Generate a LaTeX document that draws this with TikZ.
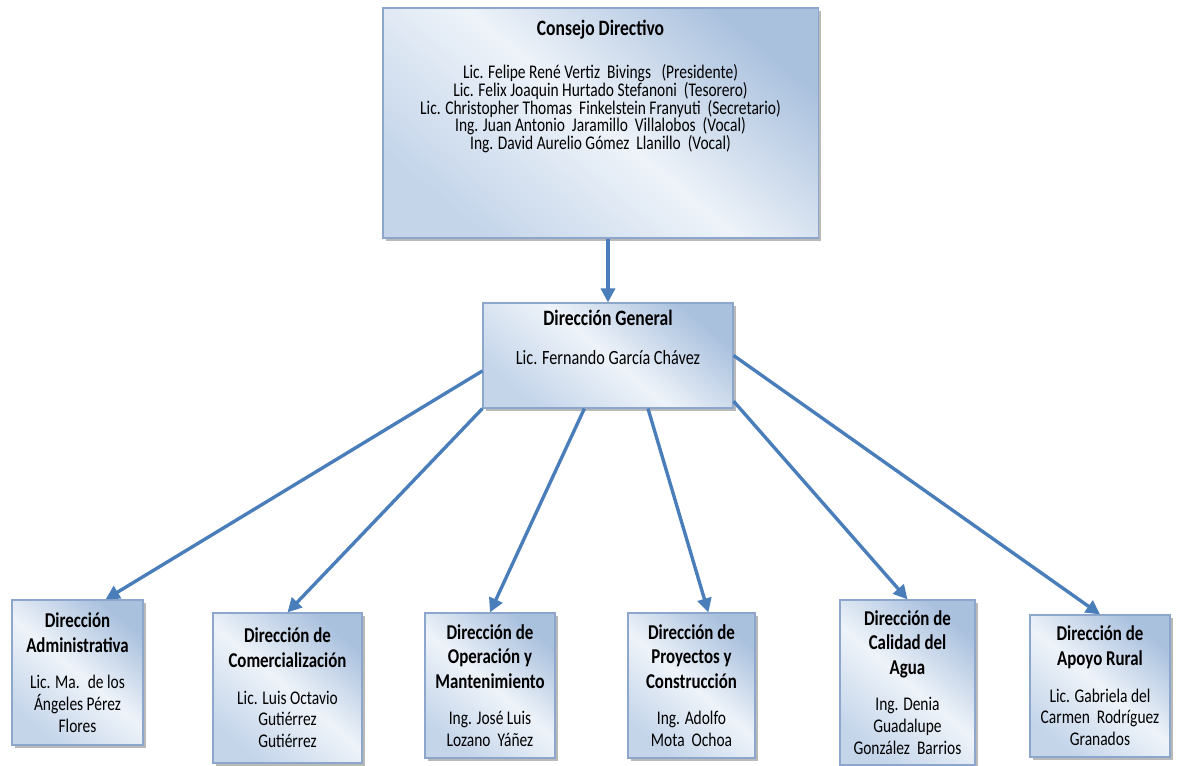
\documentclass[tikz,border=0pt]{standalone}
\usepackage{fontspec}
\setmainfont{Carlito}[FakeStretch=0.8]
\usetikzlibrary{positioning,shadows,arrows.meta}

\definecolor{azulflecha}{RGB}{74,126,187}
\definecolor{bordecaja}{RGB}{141,167,204}
\definecolor{cajaarriba}{RGB}{170,193,222}
\definecolor{cajamedio}{RGB}{238,243,249}
\definecolor{cajaabajo}{RGB}{196,213,234}

\lineskiplimit=-20pt
\newcommand{\tit}{\bfseries\fontsize{15}{15}\selectfont}

\tikzset{
  caja/.style={rectangle, draw=bordecaja, line width=0.8pt, inner sep=0pt,
    top color=cajaarriba, bottom color=cajaabajo, middle color=cajamedio, shading angle=-40,
    drop shadow={shadow xshift=2pt, shadow yshift=-2pt, opacity=.5, fill=black!55},
    align=center, font=\fontsize{13.75}{15.5}\selectfont},
  texto/.style={inner sep=0pt, align=center},
  flecha/.style={draw=azulflecha, line width=2.4pt, -{Triangle[length=10pt,width=10pt]}},
}

\begin{document}
\begin{tikzpicture}[x=0.025cm, y=-0.025cm]
\useasboundingbox (0,0) rectangle (1179,766);

% consejo y direccion general
\node[caja, minimum width=10.875cm, minimum height=5.75cm] (cd) at (600.5,123) {};
\node (cdtxt) [texto, below=9pt of cd.north, font=\fontsize{13.75}{12.6}\selectfont]
  {{\bfseries\fontsize{15.6}{14}\selectfont Consejo Directivo}\\[18pt]
   Lic. Felipe René Vertiz~ Bivings~~ (Presidente)\\
   Lic. Felix Joaquin Hurtado Stefanoni~ (Tesorero)\\
   Lic. Christopher Thomas~ Finkelstein Franyuti~ (Secretario)\\
   Ing. Juan Antonio~ Jaramillo~ Villalobos~ (Vocal)\\
   Ing. David Aurelio Gómez~ Llanillo~ (Vocal)};

\node[caja, minimum width=6.25cm, minimum height=2.625cm] (dg) at (608,355.5) {};
\node (dgtxt) [texto, below=5.3pt of dg.north, font=\fontsize{14.4}{13.5}\selectfont]
  {{\bfseries\fontsize{15.6}{14}\selectfont Dirección General}\\[14.5pt]
   Lic. Fernando García Chávez};

% direcciones
\node[caja, minimum width=3.275cm, minimum height=3.625cm] (adm) at (77.5,672.5)
  {{\tit Dirección}\\[2pt]{\tit Administrativa}\\[10.5pt]
   Lic. Ma.~ de los\\Ángeles Pérez\\Flores};
\node[caja, minimum width=3.725cm, minimum height=3.75cm] (com) at (287.5,688)
  {{\tit Dirección de}\\[2pt]{\tit Comercialización}\\[10.5pt]
   Lic. Luis Octavio\\Gutiérrez\\Gutiérrez};
\node[caja, minimum width=3.25cm, minimum height=3.625cm] (ope) at (490,685.5)
  {{\tit Dirección de}\\[2pt]{\tit Operación y}\\[2pt]{\tit Mantenimiento}\\[10.5pt]
   Ing. José Luis\\Lozano~ Yáñez};
\node[caja, minimum width=3.175cm, minimum height=3.625cm] (pro) at (691.5,685.5)
  {{\tit Dirección de}\\[2pt]{\tit Proyectos y}\\[2pt]{\tit Construcción}\\[10.5pt]
   Ing. Adolfo\\Mota~ Ochoa};
\node[caja, minimum width=3.375cm, minimum height=4.125cm] (cal) at (907.5,682.5)
  {{\tit Dirección de}\\[2pt]{\tit Calidad del}\\[2pt]{\tit Agua}\\[10.5pt]
   Ing. Denia\\Guadalupe\\González~ Barrios};
\node[caja, minimum width=3.5cm, minimum height=3.55cm] (apo) at (1100,686)
  {{\tit Dirección de}\\[2pt]{\tit Apoyo Rural}\\[10.5pt]
   Lic. Gabriela del\\Carmen~ Rodríguez\\Granados};

% flechas
\draw[flecha] (cd.south -| dg.north) -- (dg.north);
\draw[flecha] (dg.187) -- (adm.69);
\draw[flecha] (dg.south west) -- (com.north);
\draw[flecha] (dg.246) -- (ope.north);
\draw[flecha] (dg.307) -- (pro.77);
\draw[flecha] (dg.340) -- (cal.north);
\draw[flecha] (dg.east) -- (apo.north);
\end{tikzpicture}
\end{document}
